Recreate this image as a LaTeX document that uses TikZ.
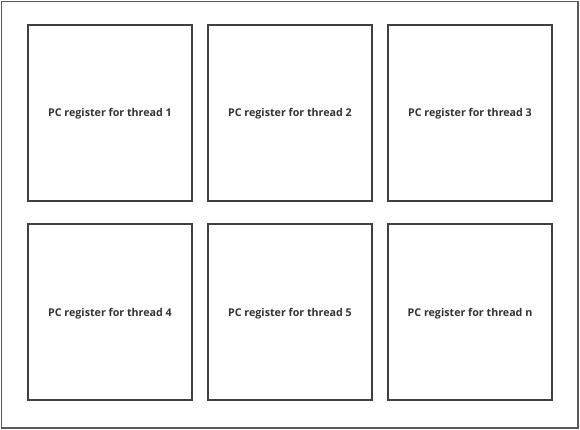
\documentclass[tikz,border=0pt]{standalone}
\usepackage{fontspec}
\setmainfont{Open Sans}
\begin{document}
\begin{tikzpicture}[x=1pt,y=-1pt,
  reg/.style={draw=black!75,line width=1.3pt,fill=white,minimum width=164pt,minimum height=176pt,inner sep=0pt,
    text height=8pt,text depth=0pt,
    font=\fontsize{10.7pt}{12pt}\selectfont\bfseries,text=black!80},
  frame/.style={draw=black!65,line width=1.8pt}]
\useasboundingbox (0,0) rectangle (580,430);
\draw[frame] (1.5,1.5) rectangle (578,428);
\node[reg] (r1) at (110,113) {PC register for thread 1};
\node[reg] (r2) at (290,113) {PC register for thread 2};
\node[reg] (r3) at (470,113) {PC register for thread 3};
\node[reg] (r4) at (110,312) {PC register for thread 4};
\node[reg] (r5) at (290,312) {PC register for thread 5};
\node[reg] (r6) at (470,312) {PC register for thread n};
\end{tikzpicture}
\end{document}
